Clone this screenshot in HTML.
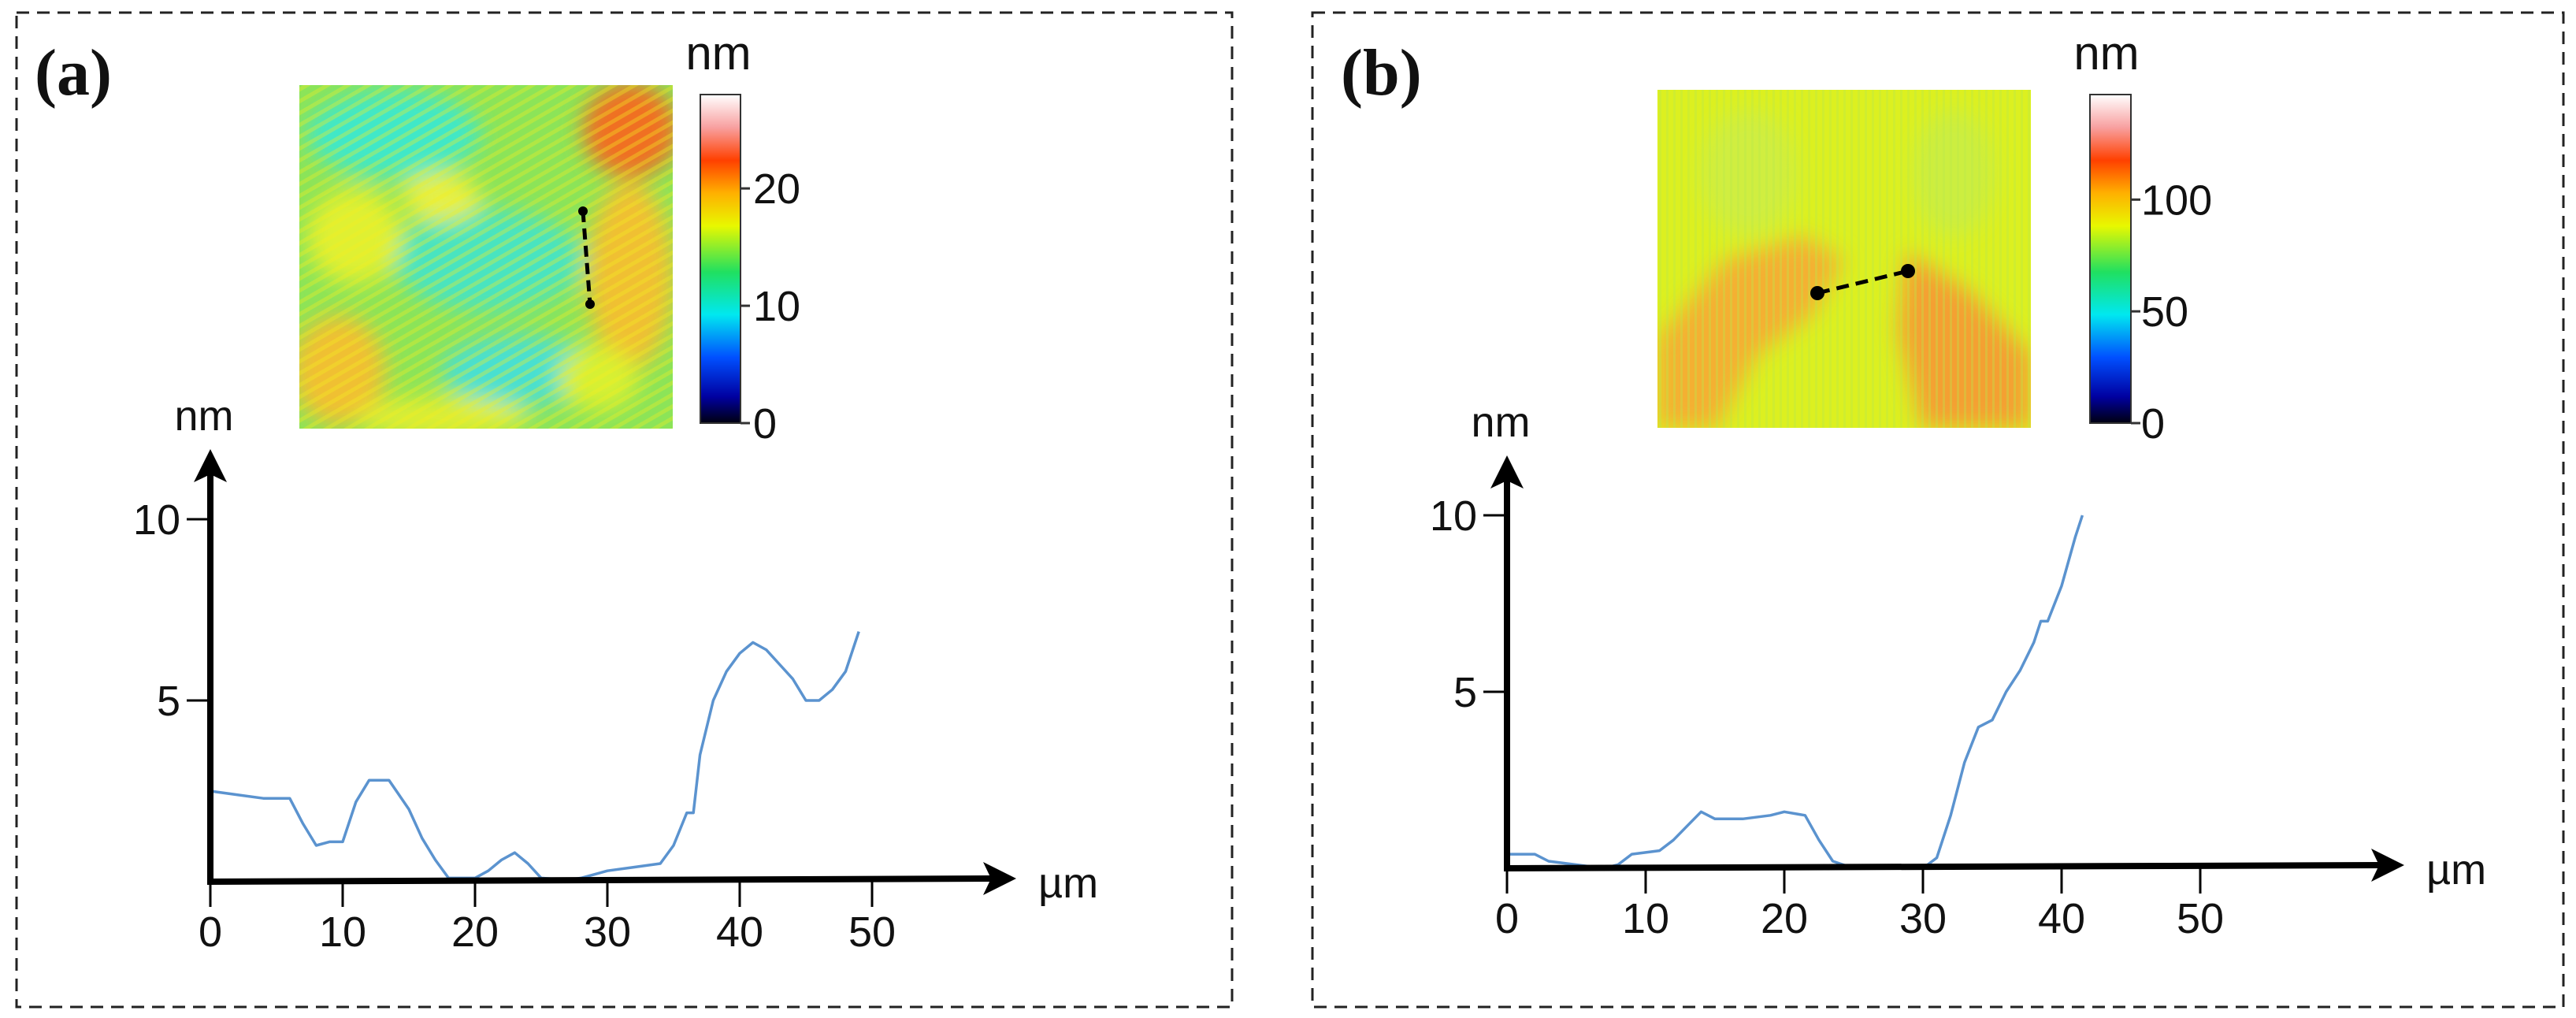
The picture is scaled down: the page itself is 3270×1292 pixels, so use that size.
<!DOCTYPE html>
<html><head><meta charset="utf-8">
<style>
html,body{margin:0;padding:0;background:#fff;}
svg{display:block;}
text{font-family:"Liberation Sans",Arial,sans-serif;fill:#111;}
</style></head>
<body>
<svg id="fig" width="3270" height="1292" viewBox="0 0 3270 1292" xmlns="http://www.w3.org/2000/svg">
<defs>
  <linearGradient id="cbar" x1="0" y1="1" x2="0" y2="0">
    <stop offset="0" stop-color="#000010"/>
    <stop offset="0.08" stop-color="#0000a0"/>
    <stop offset="0.2" stop-color="#0050ff"/>
    <stop offset="0.33" stop-color="#00e8f0"/>
    <stop offset="0.46" stop-color="#20e060"/>
    <stop offset="0.6" stop-color="#e8f800"/>
    <stop offset="0.7" stop-color="#ffb000"/>
    <stop offset="0.8" stop-color="#ff4000"/>
    <stop offset="0.9" stop-color="#f8a0a0"/>
    <stop offset="1" stop-color="#ffffff"/>
  </linearGradient>
  <pattern id="stripesA" width="13" height="13" patternUnits="userSpaceOnUse" patternTransform="rotate(-30)">
    <rect width="13" height="5" fill="#f2ee20" opacity="0.35"/>
  </pattern>
  <pattern id="stripesB" width="9" height="40" patternUnits="userSpaceOnUse">
    <rect width="3" height="40" fill="#b8e84a" opacity="0.35"/>
  </pattern>
  <filter id="blur"><feGaussianBlur stdDeviation="14"/></filter>
  <clipPath id="clipA"><rect x="380" y="108" width="474" height="436"/></clipPath>
  <clipPath id="clipB"><rect x="2104" y="114" width="474" height="429"/></clipPath>
</defs>

<rect x="21" y="16" width="1543" height="1262" fill="none" stroke="#222" stroke-width="3" stroke-dasharray="16,10"/>
<rect x="1666" y="16" width="1588" height="1262" fill="none" stroke="#222" stroke-width="3" stroke-dasharray="16,10"/>

<text x="44" y="120" font-weight="bold" font-size="84" style="font-family:'Liberation Serif',serif">(a)</text>
<text x="1702" y="120" font-weight="bold" font-size="84" style="font-family:'Liberation Serif',serif">(b)</text>

<g clip-path="url(#clipA)">
  <rect x="380" y="108" width="474" height="436" fill="#8ce458"/>
  <g filter="url(#blur)">
    <ellipse cx="500" cy="170" rx="110" ry="55" fill="#40e8c8"/>
    <ellipse cx="620" cy="330" rx="120" ry="65" fill="#48e4c0"/>
    <ellipse cx="660" cy="470" rx="100" ry="45" fill="#48e0d0"/>
    <ellipse cx="450" cy="300" rx="60" ry="60" fill="#e0f030"/>
    <ellipse cx="430" cy="470" rx="60" ry="70" fill="#f0c030"/>
    <ellipse cx="800" cy="165" rx="60" ry="60" fill="#f07020"/>
    <ellipse cx="800" cy="350" rx="55" ry="120" fill="#f0c030"/>
    <ellipse cx="560" cy="530" rx="110" ry="25" fill="#e0ee30"/>
    <ellipse cx="560" cy="250" rx="50" ry="30" fill="#e8f040"/>
    <ellipse cx="760" cy="480" rx="50" ry="40" fill="#d8f030"/>
  </g>
  <rect x="380" y="108" width="474" height="436" fill="url(#stripesA)"/>
</g>
<g clip-path="url(#clipB)">
  <rect x="2104" y="114" width="474" height="429" fill="#dcf020"/>
  <g filter="url(#blur)">
    <polygon points="2104,430 2190,330 2290,300 2340,330 2300,400 2230,450 2180,543 2104,543" fill="#f4b030"/>
    <polygon points="2420,320 2500,370 2578,450 2578,543 2440,543 2410,420" fill="#f4a030"/>
    <ellipse cx="2220" cy="220" rx="60" ry="80" fill="#d0ee40"/>
    <ellipse cx="2480" cy="220" rx="50" ry="80" fill="#ccee40"/>
  </g>
  <rect x="2104" y="114" width="474" height="429" fill="url(#stripesB)"/>
</g>

<g>
  <line x1="740" y1="268" x2="749" y2="386" stroke="#000" stroke-width="5" stroke-dasharray="14,8"/>
  <circle cx="740" cy="268" r="6"/><circle cx="749" cy="386" r="6"/>
</g>
<g>
  <line x1="2307" y1="372" x2="2422" y2="344" stroke="#000" stroke-width="5" stroke-dasharray="16,9"/>
  <circle cx="2307" cy="372" r="9"/><circle cx="2422" cy="344" r="9"/>
</g>

<g>
  <rect x="889" y="120" width="51" height="417" fill="url(#cbar)" stroke="#333" stroke-width="2"/>
  <text x="912" y="88" font-size="60" text-anchor="middle">nm</text>
</g>
<g>
  <rect x="2653" y="120" width="52" height="417" fill="url(#cbar)" stroke="#333" stroke-width="2"/>
  <text x="2674" y="88" font-size="60" text-anchor="middle">nm</text>
</g>
<g id="cbarTicks"></g>

<g id="chartA"></g>
<g id="chartB"></g>
</svg>
<script>
const cbarATicks = [0, 10, 20];
const cbarAMax = 28;
const cbarBTicks = [0, 50, 100];
const cbarBMax = 147;

const xTicksA = [0, 10, 20, 30, 40, 50];
const yTicksA = [5, 10];
const profileAx = [0,2,4,6,7,8,9,10,11,12,13.5,15,16,17,18,20,21,22,23,24,25,27,28,30,32,34,35,36,36.5,37,38,39,40,41,42,43,44,45,46,47,48,49];
const profileAy = [2.5,2.4,2.3,2.3,1.6,1.0,1.1,1.1,2.2,2.8,2.8,2.0,1.2,0.6,0.1,0.1,0.3,0.6,0.8,0.5,0.1,0.05,0.1,0.3,0.4,0.5,1.0,1.9,1.9,3.5,5.0,5.8,6.3,6.6,6.4,6.0,5.6,5.0,5.0,5.3,5.8,6.9];

const xTicksB = [0, 10, 20, 30, 40, 50];
const yTicksB = [5, 10];
const profileBx = [0,2,3,5,7,8,9,11,12,13,14,15,17,19,20,21.5,22.5,23.5,25,27,30,31,32,33,34,35,36,37,38,38.5,39,40,41,41.5];
const profileBy = [0.4,0.4,0.2,0.1,0,0.1,0.4,0.5,0.8,1.2,1.6,1.4,1.4,1.5,1.6,1.5,0.8,0.2,0,0.05,0,0.3,1.5,3.0,4.0,4.2,5.0,5.6,6.4,7.0,7.0,8.0,9.4,10.0];

const NS = 'http://www.w3.org/2000/svg';
function mk(tag, attrs, parent) {
  const e = document.createElementNS(NS, tag);
  for (const k in attrs) e.setAttribute(k, attrs[k]);
  parent.appendChild(e);
  return e;
}

const cbG = document.getElementById('cbarTicks');
function cbar(ticks, max, x0, x1, yTop, yBot, labelX) {
  const sc = v => yBot - (v / max) * (yBot - yTop);
  ticks.forEach(v => {
    const y = sc(v);
    const t = mk('line', {x1: x1, y1: y, x2: x1 + 12, y2: y, stroke: '#333', 'stroke-width': 3}, cbG);
    
    
    const tx = mk('text', {x: labelX, y: y + 19, 'font-size': 54}, cbG);
    tx.textContent = v;
    
    
  });
}
cbar(cbarATicks, cbarAMax, 889, 940, 120, 537, 956);
cbar(cbarBTicks, cbarBMax, 2653, 2705, 120, 537, 2718);

function chart(gid, cfg, xs, ys, xt, yt, prefix) {
  const g = document.getElementById(gid);
  const X = v => cfg.x0 + v * cfg.sx;
  const Y = v => cfg.y0 - v * cfg.sy;
  let d = '';
  xs.forEach((v, i) => { d += (i ? 'L' : 'M') + X(v).toFixed(1) + ',' + Y(ys[i]).toFixed(1); });
  const p = mk('path', {d: d, fill: 'none', stroke: '#5b93cf', 'stroke-width': 3.5, 'stroke-linejoin': 'round'}, g);
  
  
  const ya = mk('line', {x1: cfg.x0, y1: cfg.y0 + 4, x2: cfg.x0, y2: cfg.yTop + 30, stroke: '#000', 'stroke-width': 8}, g);
  
  
  const yh = mk('polygon', {points: `${cfg.x0},${cfg.yTop} ${cfg.x0-21},${cfg.yTop+42} ${cfg.x0},${cfg.yTop+32} ${cfg.x0+21},${cfg.yTop+42}`, fill: '#000'}, g);
  
  
  const xa = mk('line', {x1: cfg.x0 - 4, y1: cfg.y0, x2: cfg.xEnd - 30, y2: cfg.y0 - 4, stroke: '#000', 'stroke-width': 8}, g);
  
  
  const xh = mk('polygon', {points: `${cfg.xEnd},${cfg.y0-4} ${cfg.xEnd-42},${cfg.y0-25} ${cfg.xEnd-32},${cfg.y0-4} ${cfg.xEnd-42},${cfg.y0+17}`, fill: '#000'}, g);
  
  
  xt.forEach(v => {
    const x = X(v);
    const tk = mk('line', {x1: x, y1: cfg.y0, x2: x, y2: cfg.y0 + 32, stroke: '#000', 'stroke-width': 3}, g);
    
    
    const tl = mk('text', {x: x, y: cfg.y0 + 82, 'font-size': 54, 'text-anchor': 'middle'}, g);
    tl.textContent = v;
    
    
  });
  yt.forEach(v => {
    const y = Y(v);
    const tk = mk('line', {x1: cfg.x0 - 30, y1: y, x2: cfg.x0, y2: y, stroke: '#000', 'stroke-width': 3}, g);
    
    
    const tl = mk('text', {x: cfg.x0 - 38, y: y + 19, 'font-size': 54, 'text-anchor': 'end'}, g);
    tl.textContent = v;
    
    
  });
  const yl = mk('text', {x: cfg.x0 - 8, y: cfg.yTop - 24, 'font-size': 54, 'text-anchor': 'middle'}, g);
  yl.textContent = 'nm';
  
  
  const xl = mk('text', {x: cfg.xEnd + 28, y: cfg.y0 + 20, 'font-size': 54}, g);
  xl.textContent = 'µm';
  
  
}

chart('chartA', {x0: 267, y0: 1119, sx: 16.8, sy: 46, yTop: 570, xEnd: 1290}, profileAx, profileAy, xTicksA, yTicksA, 'chart-a');
chart('chartB', {x0: 1913, y0: 1102, sx: 17.6, sy: 44.8, yTop: 578, xEnd: 3052}, profileBx, profileBy, xTicksB, yTicksB, 'chart-b');
</script>
</body></html>
